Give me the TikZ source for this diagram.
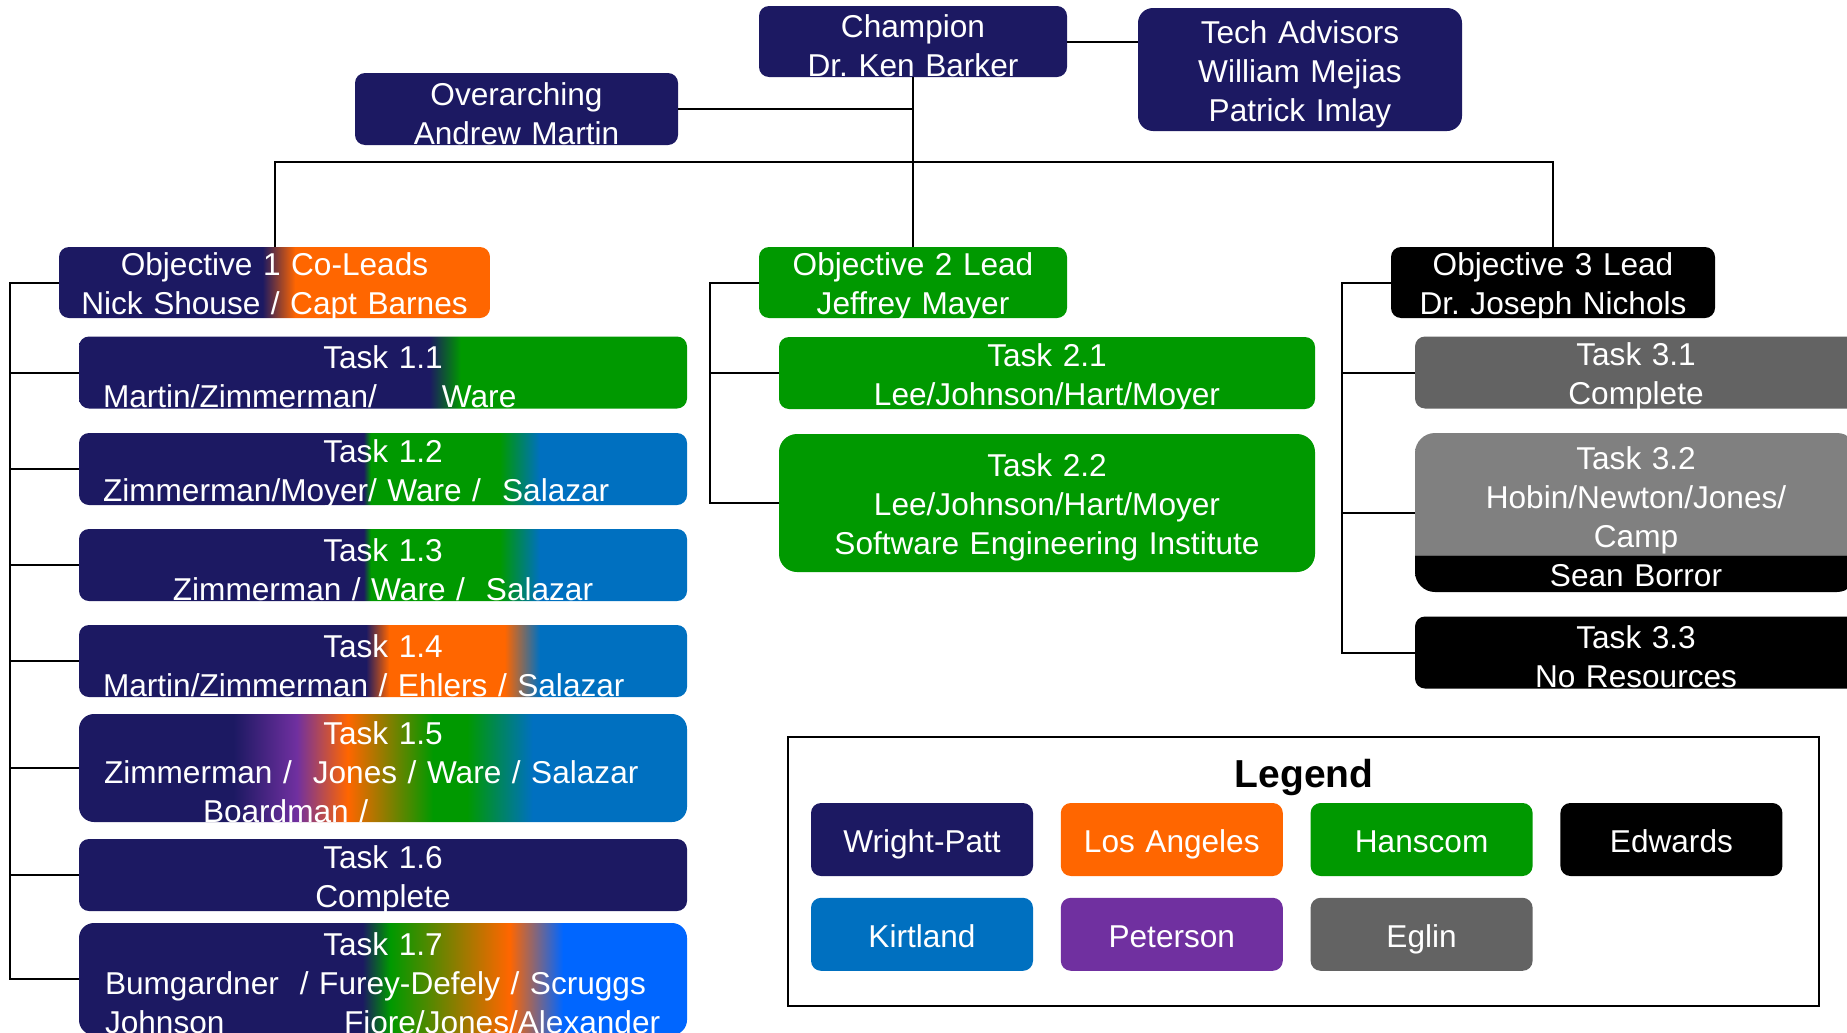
\documentclass[tikz,border=0pt]{standalone}
\usepackage{fontspec}
\setmainfont{Liberation Sans}
\usetikzlibrary{positioning}

% site colours
\definecolor{wpnavy}{RGB}{28,25,98}
\definecolor{laorange}{RGB}{255,102,0}
\definecolor{hgreen}{RGB}{0,153,0}
\definecolor{kblue}{RGB}{0,112,192}
\definecolor{ppurple}{RGB}{112,48,160}
\definecolor{egray}{RGB}{99,99,99}
\definecolor{midgray}{RGB}{128,128,128}
\definecolor{brightblue}{RGB}{0,102,255}

% mixed-site fills (the box runs from 25bp to 75bp)
\pgfdeclarehorizontalshading{mixobja}{100bp}{color(0bp)=(wpnavy); color(48.6bp)=(wpnavy); color(52.4bp)=(laorange); color(100bp)=(laorange)}
\pgfdeclarehorizontalshading{mixtaska}{100bp}{color(0bp)=(wpnavy); color(53.8bp)=(wpnavy); color(56.4bp)=(hgreen); color(100bp)=(hgreen)}
\pgfdeclarehorizontalshading{mixtaskb}{100bp}{color(0bp)=(wpnavy); color(48.4bp)=(wpnavy); color(49bp)=(hgreen); color(59.6bp)=(hgreen); color(62.9bp)=(kblue); color(100bp)=(kblue)}
\pgfdeclarehorizontalshading{mixtaskd}{100bp}{color(0bp)=(wpnavy); color(48.6bp)=(wpnavy); color(50.5bp)=(laorange); color(60bp)=(laorange); color(62.9bp)=(kblue); color(100bp)=(kblue)}
\pgfdeclarehorizontalshading{mixtaske}{100bp}{color(0bp)=(wpnavy); color(37.7bp)=(wpnavy); color(42.9bp)=(ppurple); color(47.1bp)=(laorange); color(54.1bp)=(hgreen); color(56.9bp)=(hgreen); color(62.3bp)=(kblue); color(100bp)=(kblue)}
\pgfdeclarehorizontalshading{mixtaskg}{100bp}{color(0bp)=(wpnavy); color(48.3bp)=(wpnavy); color(50.6bp)=(hgreen); color(60.4bp)=(laorange); color(64.8bp)=(brightblue); color(100bp)=(brightblue)}
\pgfdeclareverticalshading{seanband}{100bp}{color(0bp)=(black); color(36.5bp)=(black); color(36.6bp)=(black!60); color(36.9bp)=(midgray); color(100bp)=(midgray)}

% a line that starts a given distance from the left edge of a task box
\newcommand{\fromleft}[2]{\makebox[304pt][l]{\hspace*{#1}#2}}
% drop the last descender so the lines sit a little lower
\newcommand{\settletext}{\par\vspace{-4.5pt}}

\begin{document}
\begin{tikzpicture}[x=0.5pt, y=-0.5pt, font=\fontsize{15.8}{19.5}\selectfont\frenchspacing]
\tikzstyle{box} = [rounded corners=5pt, text=white, align=center, inner sep=0pt, execute at end node=\settletext]
\tikzstyle{lead} = [box, minimum height=35.5pt]
\tikzstyle{task} = [box, minimum height=36pt]
\tikzstyle{mixed} = [task, shade, text width=304pt]
\tikzstyle{legendbox} = [box, text width=111pt, minimum height=36.5pt, text height=14pt, text depth=1pt]
\tikzstyle{connector} = [draw=black, line width=1pt]

\useasboundingbox (0,0) rectangle (1847,1033);
\clip (0,0) rectangle (1847,1033);

% champion and advisors
\node[lead, fill=wpnavy, text width=154pt] (champion) at (913,41.5) {Champion\\Dr. Ken Barker};
\node[box, fill=wpnavy, text width=162pt, minimum height=61.5pt, rounded corners=7.5pt] (techadv) at (1300,69.5) {Tech Advisors\\William Mejias\\Patrick Imlay};
\node[lead, fill=wpnavy, text width=161.5pt, minimum height=36pt] (overarch) at (516.5,109) {Overarching\\Andrew Martin};

% objective leads
\node[lead, shade, shading=mixobja, text width=215.5pt] (obj1) at (274.5,282.5) {Objective 1 Co-Leads\\Nick Shouse / Capt Barnes};
\node[lead, fill=hgreen, text width=154pt] (obj2) at (913,282.5) {Objective 2 Lead\\Jeffrey Mayer};
\node[lead, fill=black, text width=162pt] (obj3) at (1553,282.5) {Objective 3 Lead\\Dr. Joseph Nichols};

% objective 1 tasks
\node[mixed, shading=mixtaska] (t11) at (383,372.5) {Task 1.1\\\fromleft{12pt}{\makebox[169.5pt][l]{Martin/Zimmerman/}Ware}};
\node[mixed, shading=mixtaskb] (t12) at (383,469) {Task 1.2\\\fromleft{12pt}{Zimmerman/Moyer/ Ware /~~Salazar}};
\node[mixed, shading=mixtaskb] (t13) at (383,565) {Task 1.3\\Zimmerman / Ware /~~Salazar};
\node[mixed, shading=mixtaskd] (t14) at (383,661) {Task 1.4\\\fromleft{12pt}{Martin/Zimmerman / Ehlers / Salazar}};
\node[mixed, shading=mixtaske, minimum height=54pt, rounded corners=7.5pt] (t15) at (383,768) {Task 1.5\\\fromleft{12.5pt}{Zimmerman /~~Jones / Ware / Salazar}\\\fromleft{62pt}{Boardman /}};
\node[task, fill=wpnavy, text width=304pt] (t16) at (383,875) {Task 1.6\\Complete};
\node[mixed, shading=mixtaskg, minimum height=56pt, rounded corners=7.5pt] (t17) at (383,979) {Task 1.7\\\fromleft{13pt}{Bumgardner~~/ Furey-Defely / Scruggs}\\\fromleft{13pt}{\makebox[119.5pt][l]{Johnson}Fiore/Jones/Alexander}};

% objective 2 tasks
\node[task, fill=hgreen, text width=268pt] (t21) at (1047,373) {Task 2.1\\Lee/Johnson/Hart/Moyer};
\node[task, fill=hgreen, text width=268pt, minimum height=69pt, rounded corners=9pt] (t22) at (1047,503) {Task 2.2\\Lee/Johnson/Hart/Moyer\\Software Engineering Institute};

% objective 3 tasks
\node[task, fill=egray, text width=221pt] (t31) at (1636,372.5) {Task 3.1\\Complete};
\node[task, shade, shading=seanband, text width=221pt, minimum height=79.5pt, rounded corners=10pt] (t32) at (1636,512.5) {Task 3.2\\Hobin/Newton/Jones/\\Camp\\Sean Borror};
\node[task, fill=black, text width=221pt] (t33) at (1636,652.5) {Task 3.3\\No Resources};

% links at the top
\coordinate (bus) at (913,162);
\draw[connector] (champion.east) -- (champion.east -| techadv.west);
\draw[connector] (overarch.east) -- (overarch.east -| champion.south);
\draw[connector] (champion.south) -- (obj2.north);
\draw[connector] (obj1.north) |- (bus) -| (obj3.north);

% links from each lead to its tasks
\coordinate (spinea) at (10,282.5);
\coordinate (spineb) at (710,282.5);
\coordinate (spinec) at (1342,282.5);
\draw[connector] (obj1.west) -- (spinea) |- (t17.west);
\foreach \t in {t11,t12,t13,t14,t15,t16}
  \draw[connector] (spinea |- \t.west) -- (\t.west);
\draw[connector] (obj2.west) -- (spineb) |- (t22.west);
\draw[connector] (spineb |- t21.west) -- (t21.west);
\draw[connector] (obj3.west) -- (spinec) |- (t33.west);
\foreach \t in {t31,t32}
  \draw[connector] (spinec |- \t.west) -- (\t.west);

% legend
\node[draw=black, line width=1pt, minimum width=515.5pt, minimum height=134.5pt] (legend) at (1303.5,871.5) {};
\node[font=\fontsize{19.5}{23}\selectfont\bfseries] (legendtitle) at (1304,777) {Legend};
\node[legendbox, fill=wpnavy] (wright) at (922,839.5) {Wright-Patt};
\node[legendbox, fill=laorange, right=13.5pt of wright] (losangeles) {Los Angeles};
\node[legendbox, fill=hgreen, right=13.5pt of losangeles] (hanscom) {Hanscom};
\node[legendbox, fill=black, right=13.5pt of hanscom] (edwards) {Edwards};
\node[legendbox, fill=kblue, below=10.5pt of wright] (kirtland) {Kirtland};
\node[legendbox, fill=ppurple, right=13.5pt of kirtland] (peterson) {Peterson};
\node[legendbox, fill=egray, right=13.5pt of peterson] (eglin) {Eglin};

\end{tikzpicture}
\end{document}
